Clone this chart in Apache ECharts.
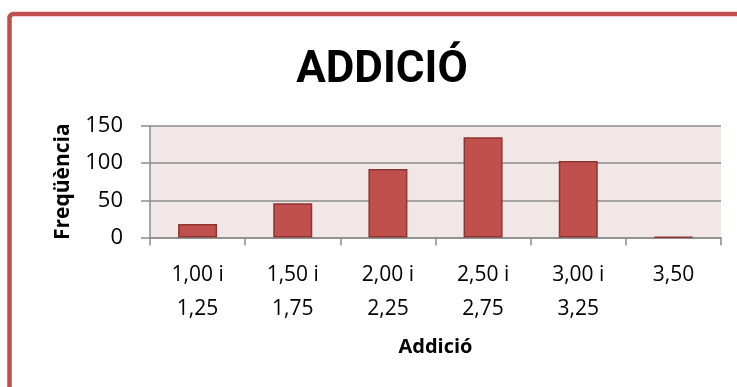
<!DOCTYPE html>
<html>
<head>
<meta charset="utf-8">
<script src="https://cdn.jsdelivr.net/npm/echarts@6/dist/echarts.min.js"></script>
<style>
  html, body { margin: 0; padding: 0; background: #ffffff; }
  #chart { width: 737px; height: 387px; }
</style>
</head>
<body>
<div id="chart"></div>
<script>
// Interval categories (two-line labels) and their frequencies
const categories = ['1,00 i\n1,25', '1,50 i\n1,75', '2,00 i\n2,25', '2,50 i\n2,75', '3,00 i\n3,25', '3,50'];
const frequencies = [18, 46, 92, 135, 103, 1];
const yTicks = { min: 0, max: 150, interval: 50 };

const FONT = '"Open Sans", sans-serif';
const GRID_COLOR = '#8c8c8c';

const chart = echarts.init(document.getElementById('chart'), null, { renderer: 'canvas' });

chart.setOption({
  backgroundColor: '#ffffff',
  animation: false,
  graphic: [{
    type: 'rect',
    shape: { x: 9.5, y: 14, width: 900, height: 600, r: 4 },
    style: { fill: 'none', stroke: '#c0504d', lineWidth: 4.5 },
    silent: true,
    z: -1
  }],
  title: {
    text: 'ADDICIÓ',
    left: 377,
    textAlign: 'center',
    top: 44,
    textStyle: { fontFamily: 'Roboto, sans-serif', fontSize: 44, fontWeight: 'bold', color: '#000000' }
  },
  grid: {
    left: 150, right: 16, top: 126, bottom: 149.5,
    show: true, backgroundColor: '#f2e7e7', borderWidth: 0
  },
  xAxis: {
    type: 'category',
    data: categories,
    name: 'Addició',
    nameLocation: 'middle',
    nameGap: 100,
    nameTextStyle: { fontFamily: FONT, fontSize: 20, fontWeight: 'bold', color: '#000000' },
    axisLine: { lineStyle: { color: GRID_COLOR, width: 1.5 } },
    axisTick: { show: true, length: 8, alignWithLabel: false, lineStyle: { color: GRID_COLOR, width: 1.5 } },
    axisLabel: {
      fontFamily: FONT, fontSize: 21, color: '#000000',
      lineHeight: 34, margin: 21, interval: 0
    },
    splitLine: { show: false }
  },
  yAxis: {
    type: 'value',
    min: yTicks.min, max: yTicks.max, interval: yTicks.interval,
    name: 'Freqüència',
    nameLocation: 'middle',
    nameGap: 76,
    nameTextStyle: { fontFamily: FONT, fontSize: 21, fontWeight: 'bold', color: '#000000' },
    axisLine: { show: true, lineStyle: { color: GRID_COLOR, width: 1.5 } },
    axisTick: { show: true, length: 9, lineStyle: { color: GRID_COLOR, width: 1.5 } },
    axisLabel: { fontFamily: FONT, fontSize: 22, color: '#000000', margin: 27 },
    splitLine: { show: true, lineStyle: { color: GRID_COLOR, width: 1.5 } }
  },
  series: [{
    type: 'bar',
    data: frequencies,
    barWidth: 39,
    itemStyle: { color: '#c0504d', borderColor: '#8e3532', borderWidth: 1.5 }
  }]
});
</script>
</body>
</html>
